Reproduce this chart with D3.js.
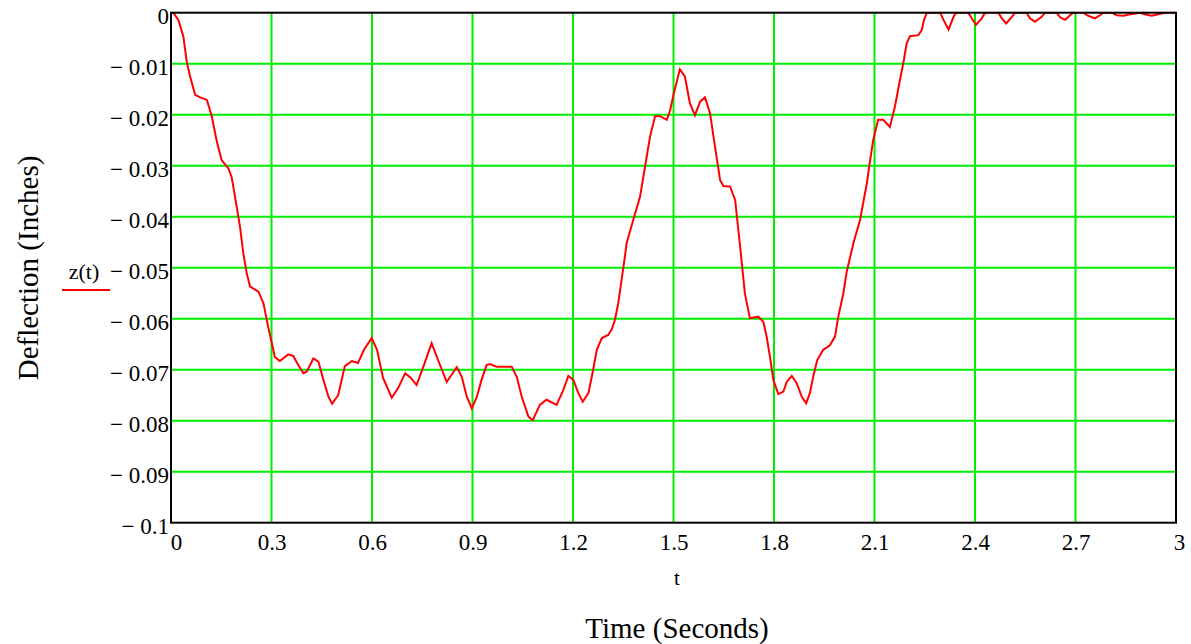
<!DOCTYPE html>
<html>
<head>
<meta charset="utf-8">
<script src="https://cdn.jsdelivr.net/npm/d3@7"></script>
<style>
  html, body { margin: 0; padding: 0; background: #fff; }
  svg { display: block; }
  svg text { font-family: "Liberation Serif", "Times New Roman", serif; fill: #000; }
</style>
</head>
<body>
<svg id="chart" width="1191" height="644"></svg>
<script>
// ---- Data ----
const tValues = [0, 0.007, 0.022, 0.037, 0.047, 0.057, 0.072, 0.087, 0.107, 0.121, 0.136, 0.151, 0.171, 0.181, 0.196, 0.206, 0.216, 0.226, 0.236, 0.261, 0.276, 0.290, 0.301, 0.310, 0.325, 0.350, 0.365, 0.380, 0.395, 0.405, 0.425, 0.440, 0.455, 0.470, 0.481, 0.499, 0.519, 0.540, 0.558, 0.576, 0.599, 0.615, 0.633, 0.659, 0.678, 0.699, 0.716, 0.733, 0.755, 0.778, 0.797, 0.823, 0.853, 0.868, 0.883, 0.898, 0.913, 0.927, 0.942, 0.952, 0.972, 1.017, 1.032, 1.047, 1.067, 1.080, 1.101, 1.121, 1.151, 1.171, 1.186, 1.201, 1.216, 1.229, 1.246, 1.259, 1.271, 1.286, 1.305, 1.315, 1.325, 1.335, 1.345, 1.355, 1.360, 1.380, 1.400, 1.415, 1.430, 1.445, 1.460, 1.480, 1.490, 1.501, 1.519, 1.534, 1.549, 1.564, 1.579, 1.594, 1.609, 1.624, 1.639, 1.649, 1.669, 1.684, 1.699, 1.713, 1.728, 1.753, 1.768, 1.778, 1.788, 1.798, 1.813, 1.828, 1.838, 1.853, 1.868, 1.883, 1.896, 1.907, 1.917, 1.929, 1.947, 1.967, 1.982, 1.992, 2.007, 2.017, 2.037, 2.057, 2.077, 2.087, 2.096, 2.111, 2.126, 2.146, 2.161, 2.176, 2.186, 2.196, 2.206, 2.231, 2.241, 2.248, 2.256, 2.296, 2.306, 2.321, 2.336, 2.343, 2.380, 2.390, 2.403, 2.420, 2.430, 2.470, 2.480, 2.493, 2.510, 2.519, 2.554, 2.564, 2.579, 2.599, 2.609, 2.644, 2.654, 2.669, 2.684, 2.693, 2.723, 2.738, 2.758, 2.773, 2.783, 2.808, 2.823, 2.843, 2.863, 2.893, 2.907, 2.927, 2.947, 2.967, 3.0];
const zValues = [0, 0, -0.0014, -0.0047, -0.0096, -0.0125, -0.0161, -0.0166, -0.0171, -0.0201, -0.0250, -0.0289, -0.0305, -0.0322, -0.0380, -0.0420, -0.0472, -0.0511, -0.0537, -0.0547, -0.0570, -0.0616, -0.0648, -0.0675, -0.0683, -0.0670, -0.0673, -0.0691, -0.0707, -0.0704, -0.0678, -0.0684, -0.0720, -0.0753, -0.0767, -0.0750, -0.0693, -0.0683, -0.0687, -0.0661, -0.0638, -0.0661, -0.0716, -0.0755, -0.0736, -0.0707, -0.0716, -0.0730, -0.0691, -0.0648, -0.0681, -0.0724, -0.0695, -0.0714, -0.0753, -0.0776, -0.0753, -0.0720, -0.0691, -0.0689, -0.0694, -0.0694, -0.0714, -0.0753, -0.0792, -0.0799, -0.0769, -0.0759, -0.0769, -0.0740, -0.0712, -0.0720, -0.0746, -0.0763, -0.0746, -0.0704, -0.0661, -0.0638, -0.0632, -0.0622, -0.0603, -0.0570, -0.0524, -0.0478, -0.0452, -0.0406, -0.0361, -0.0302, -0.0243, -0.0203, -0.0203, -0.0210, -0.0191, -0.0158, -0.0111, -0.0125, -0.0178, -0.0201, -0.0175, -0.0166, -0.0197, -0.0263, -0.0328, -0.0340, -0.0341, -0.0367, -0.0459, -0.0550, -0.0599, -0.0596, -0.0606, -0.0635, -0.0675, -0.0720, -0.0748, -0.0743, -0.0724, -0.0712, -0.0727, -0.0753, -0.0766, -0.0746, -0.0714, -0.0681, -0.0661, -0.0652, -0.0635, -0.0596, -0.0550, -0.0508, -0.0452, -0.0406, -0.0335, -0.0289, -0.0250, -0.0210, -0.0210, -0.0224, -0.0184, -0.0132, -0.0099, -0.0060, -0.0046, -0.0044, -0.0034, -0.0014, 0, 0, -0.0014, -0.0033, -0.0008, 0, 0, -0.0011, -0.0024, -0.0011, 0, 0, -0.0011, -0.0021, -0.0008, 0, 0, -0.0011, -0.0018, -0.0008, 0, 0, -0.0009, -0.0014, -0.0005, 0, 0, -0.0006, -0.0011, -0.0005, 0, 0, -0.0005, -0.0006, -0.0003, 0, -0.0003, -0.0006, -0.0003, 0, 0];
const xTicks = [0, 0.3, 0.6, 0.9, 1.2, 1.5, 1.8, 2.1, 2.4, 2.7, 3];
const xTickLabels = ["0", "0.3", "0.6", "0.9", "1.2", "1.5", "1.8", "2.1", "2.4", "2.7", "3"];
const yTicks = [0, -0.01, -0.02, -0.03, -0.04, -0.05, -0.06, -0.07, -0.08, -0.09, -0.1];
const yTickLabels = ["0", "\u2212 0.01", "\u2212 0.02", "\u2212 0.03", "\u2212 0.04", "\u2212 0.05", "\u2212 0.06", "\u2212 0.07", "\u2212 0.08", "\u2212 0.09", "\u2212 0.1"];
const xTitle = "Time (Seconds)";
const xVarLabel = "t";
const yTitle = "Deflection (Inches)";
const legendLabel = "z(t)";

const data = tValues.map((t, i) => ({ t, z: zValues[i] }));

// ---- Layout ----
const svg = d3.select("#chart");
const plot = { left: 171, right: 1176, top: 12.7, bottom: 522.7 };

const x = d3.scaleLinear().domain([0, 3]).range([plot.left, plot.right]);
const y = d3.scaleLinear().domain([-0.1, 0]).range([plot.bottom, plot.top]);

const gridColor = "#00ee00";
const tickFont = "23px";

// grid
const grid = svg.append("g");
grid.selectAll("line.v").data(xTicks.slice(1, -1)).enter().append("line")
  .attr("x1", d => x(d)).attr("x2", d => x(d))
  .attr("y1", plot.top).attr("y2", plot.bottom)
  .attr("stroke", gridColor).attr("stroke-width", 2);
grid.selectAll("line.h").data(yTicks.slice(1, -1)).enter().append("line")
  .attr("x1", plot.left).attr("x2", plot.right)
  .attr("y1", d => y(d)).attr("y2", d => y(d))
  .attr("stroke", gridColor).attr("stroke-width", 2);

// clip
svg.append("clipPath").attr("id", "clip").append("rect")
  .attr("x", plot.left).attr("y", plot.top - 1)
  .attr("width", plot.right - plot.left).attr("height", plot.bottom - plot.top + 1);

// line
const line = d3.line().x(d => x(d.t)).y(d => y(d.z)).curve(d3.curveLinear);
svg.append("path").datum(data)
  .attr("clip-path", "url(#clip)")
  .attr("d", line)
  .attr("fill", "none").attr("stroke", "#ff0000").attr("stroke-width", 2)
  .attr("stroke-linejoin", "miter");

// frame
svg.append("rect")
  .attr("x", plot.left).attr("y", plot.top)
  .attr("width", plot.right - plot.left).attr("height", plot.bottom - plot.top)
  .attr("fill", "none").attr("stroke", "#000").attr("stroke-width", 2);

// axes (tick labels via d3 axis)
const xAxis = d3.axisBottom(x).tickValues(xTicks).tickSize(0).tickPadding(0)
  .tickFormat((d, i) => xTickLabels[i]);
const gx = svg.append("g").attr("transform", `translate(0,550)`).call(xAxis)
  .attr("font-size", null).attr("font-family", null);
gx.select(".domain").remove();
gx.selectAll("text").style("font-size", tickFont)
  .attr("y", 0).attr("dy", "0").attr("fill", "#000");
gx.selectAll(".tick").filter((d, i) => i === 0).select("text").attr("dx", 5);
gx.selectAll(".tick").filter((d, i) => i === xTicks.length - 1).select("text").attr("dx", 3);

const yAxis = d3.axisLeft(y).tickValues(yTicks).tickSize(0).tickPadding(2)
  .tickFormat((d, i) => yTickLabels[i]);
const gy = svg.append("g").attr("transform", `translate(${plot.left},0)`).call(yAxis)
  .attr("font-size", null).attr("font-family", null);
gy.select(".domain").remove();
gy.selectAll("text").style("font-size", tickFont).attr("dy", "0.45em").attr("fill", "#000");

// titles
svg.append("text")
  .attr("transform", "translate(38,268) rotate(-90)")
  .attr("text-anchor", "middle").style("font-size", "29px")
  .text(yTitle);
svg.append("text")
  .attr("x", 677).attr("y", 585).attr("text-anchor", "middle").style("font-size", "21px")
  .text(xVarLabel);
svg.append("text")
  .attr("x", 677).attr("y", 638).attr("text-anchor", "middle").style("font-size", "29px")
  .text(xTitle);

// legend
svg.append("text")
  .attr("x", 84).attr("y", 279).attr("text-anchor", "middle").style("font-size", "22px")
  .text(legendLabel);
svg.append("line")
  .attr("x1", 62).attr("x2", 110).attr("y1", 290).attr("y2", 290)
  .attr("stroke", "#ff0000").attr("stroke-width", 2);
</script>
</body>
</html>
